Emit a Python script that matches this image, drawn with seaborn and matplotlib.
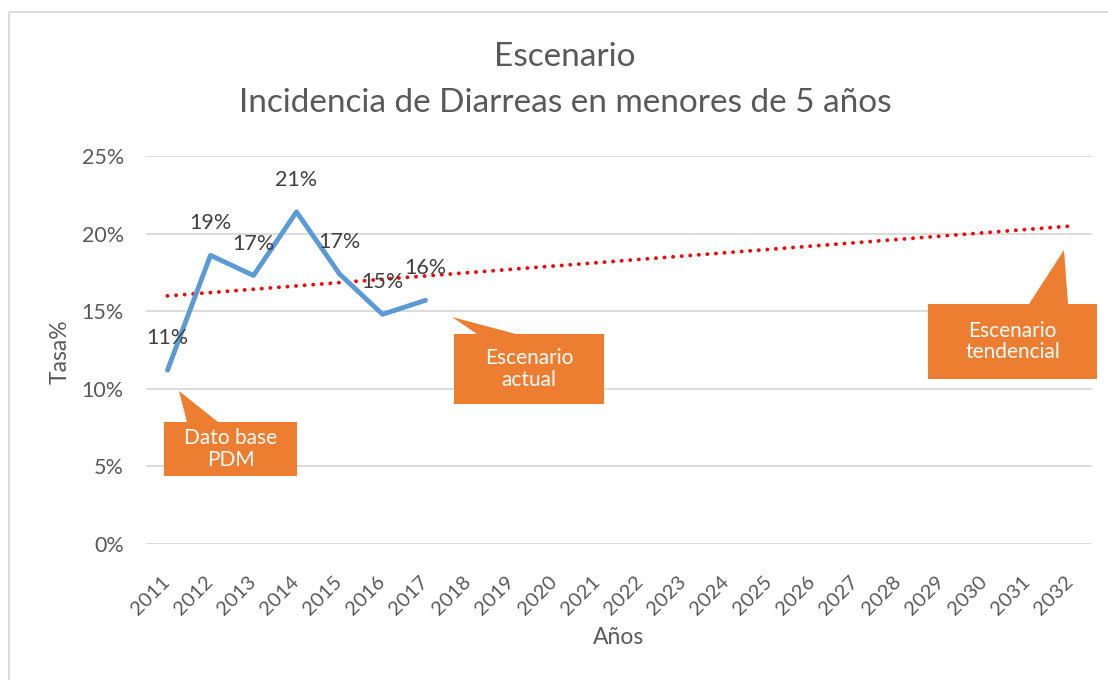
import numpy as np
import pandas as pd
import matplotlib
matplotlib.use("Agg")
import matplotlib.pyplot as plt
from matplotlib import font_manager
from matplotlib.patches import Polygon
from matplotlib.lines import Line2D
import seaborn as sns

# ---- data ----
years_all = list(range(2011, 2033))
obs_years = [2011, 2012, 2013, 2014, 2015, 2016, 2017]
obs_rate = [0.112, 0.186, 0.173, 0.214, 0.174, 0.148, 0.157]
obs_labels = ["11%", "19%", "17%", "21%", "17%", "15%", "16%"]
ytick_vals = [0, 0.05, 0.10, 0.15, 0.20, 0.25]
ytick_labels = ["0%", "5%", "10%", "15%", "20%", "25%"]
title_lines = ["Escenario", "Incidencia de Diarreas en menores de 5 años"]
callout_texts = ["Dato base\nPDM", "Escenario\nactual", "Escenario\ntendencial"]

sns.set_theme(style="white")
plt.rcParams["font.family"] = ["Lato", "DejaVu Sans"]

installed = {f.name for f in font_manager.fontManager.ttflist}
narrow = "Liberation Sans Narrow" if "Liberation Sans Narrow" in installed else "Lato"

W, H = 1108, 680
fig = plt.figure(figsize=(W / 100, H / 100), dpi=100)
ax = fig.add_axes([146 / W, 1 - 544 / H, (1092 - 146) / W, (544 - 156) / H])

grey = "#595959"
df = pd.DataFrame({"year": obs_years, "rate": obs_rate})

# trend line (linear fit of observed values, projected to 2032)
coef = np.polyfit(obs_years, obs_rate, 1)
trend_df = pd.DataFrame({"year": years_all, "rate": np.polyval(coef, years_all)})
sns.lineplot(data=trend_df, x="year", y="rate", ax=ax, color="#ff0000",
             linewidth=2.8, linestyle=(0, (0.01, 2.2)), dash_capstyle="round",
             zorder=3)
sns.lineplot(data=df, x="year", y="rate", ax=ax, color="#5b9bd5",
             linewidth=3.5, zorder=4)

for x, y, t in zip(obs_years, obs_rate, obs_labels):
    ax.annotate(t, (x, y), xytext=(0, 23), textcoords="offset points",
                ha="center", va="center", fontsize=15.5, color="#404040", zorder=5)

ax.set_xlim(2010.5, 2032.5)
ax.set_ylim(0, 0.25)
ax.set_yticks(ytick_vals)
ax.set_yticklabels(ytick_labels)
ax.set_xticks(years_all)
ax.set_xticklabels([str(y) for y in years_all], rotation=45, ha="right",
                   va="center", rotation_mode="anchor")
ax.tick_params(axis="x", length=0, pad=25, labelsize=14.5, labelcolor=grey)
ax.tick_params(axis="y", length=0, pad=16, labelsize=15.5, labelcolor=grey)
ax.grid(axis="y", color="#d9d9d9", linewidth=1.3)
ax.grid(axis="x", visible=False)
for s in ax.spines.values():
    s.set_visible(False)
ax.set_xlabel("")
ax.set_ylabel("")

fig.text(60 / W, 1 - 352 / H, "Tasa%", rotation=90, ha="center", va="center",
         fontsize=16.5, color=grey)
fig.text(619 / W, 1 - 638 / H, "Años", ha="center", va="center",
         fontsize=16.5, color=grey)
fig.text(565 / W, 1 - 57 / H, title_lines[0], ha="center", va="center",
         fontsize=24, color=grey)
fig.text(565 / W, 1 - 103 / H, title_lines[1], ha="center", va="center",
         fontsize=24, color=grey)

# chart frame (left and top edges visible)
fig.add_artist(Line2D([8.5 / W, 8.5 / W, 1.0], [0.0, 1 - 11.5 / H, 1 - 11.5 / H],
                      transform=fig.transFigure, color="#d9d9d9", linewidth=1.3))

# callouts
def px(pts):
    return [(x / W, 1 - y / H) for x, y in pts]

orange = "#ed7d31"
callouts = [
    # box (x0, y0, x1, y1), tip, base_left x, base_right x
    ((164, 422, 297, 476), (179, 391), 187, 218),
    ((454, 334, 604, 404), (452, 317), 477, 516),
    ((928, 304, 1097, 379), (1064, 250), 1029, 1068),
]
for (box, tip, bl, br), txt in zip(callouts, callout_texts):
    x0, y0, x1, y1 = box
    pts = [(x0, y0), (bl, y0), tip, (br, y0), (x1, y0), (x1, y1), (x0, y1)]
    fig.add_artist(Polygon(px(pts), closed=True, transform=fig.transFigure,
                           facecolor=orange, edgecolor="none", zorder=6))
    fig.text((x0 + x1) / 2 / W, 1 - (y0 + y1) / 2 / H, txt, ha="center",
             va="center", fontsize=15, color="white", linespacing=1.1,
             family=[narrow, "DejaVu Sans"], zorder=7)

fig.savefig("out.png", dpi=100)
